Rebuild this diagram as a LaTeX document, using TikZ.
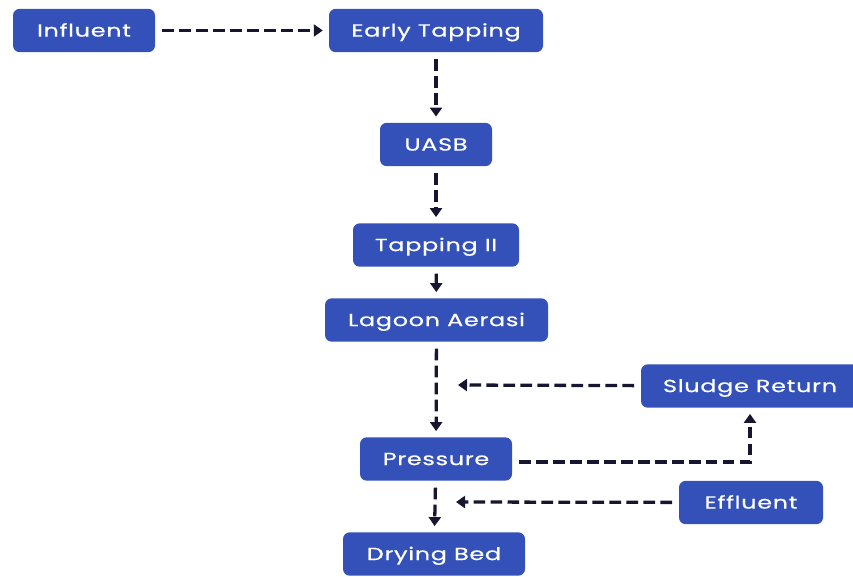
\documentclass[tikz,border=0pt]{standalone}
\usepackage{fontspec}
\setmainfont{Poppins}[FakeStretch=1.36,LetterSpace=4.0,FakeBold=0.6]
\usepackage{tikz}
\usetikzlibrary{arrows.meta}

\definecolor{boxblue}{RGB}{52,81,186}
\definecolor{flowcol}{RGB}{22,22,48}

\tikzset{
  stage/.style={draw=none,fill=boxblue,text=white,rounded corners=0.2cm,
    minimum height=1.3cm,inner sep=0pt,text height=10.4pt,text depth=0pt,
    font=\fontsize{15}{17}\selectfont},
  flow/.style={draw=flowcol,line width=2.8pt,dash pattern=on 10pt off 4.5pt,
    -{Triangle[length=0.27cm,width=0.36cm]},shorten >=0.18cm,shorten <=0.2cm}
}

\begin{document}
\begin{tikzpicture}[x=0.03cm,y=-0.03cm]
\useasboundingbox (0,0) rectangle (853,576);
   \foreach \n/\x/\y/\w/\t in
        {infl/84/30.5/142/Influent,early/436/30.5/214/Early Tapping,uasb/436/144.5/112/UASB,
         tapii/436/245/166/Tapping II,lagoon/436.5/320/223/Lagoon Aerasi,press/436/459/152/Pressure,
         sludge/750/386/218/Sludge Return,effl/751/502.5/144/Effluent,bed/434/554/182/Drying Bed}
           \node[stage,minimum width=\w*0.03cm](\n) at (\x,\y){\t} ;
\coordinate (back) at (458,385);
\coordinate (join) at (456,502);

\draw[flow] (infl) -- (early);
\draw[flow] (early) -- (uasb);
\draw[flow] (uasb) -- (tapii);
\draw[flow] (tapii) -- (lagoon);
\draw[flow] (lagoon) -- (press);
\draw[flow,shorten >=0cm] (sludge) -- (back);
\draw[flow] ([yshift=-0.09cm]press.east) -| (sludge);
\draw[flow] (press) -- (bed);
\draw[flow,shorten >=0cm] (effl) -- (join);
\end{tikzpicture}
\end{document}
